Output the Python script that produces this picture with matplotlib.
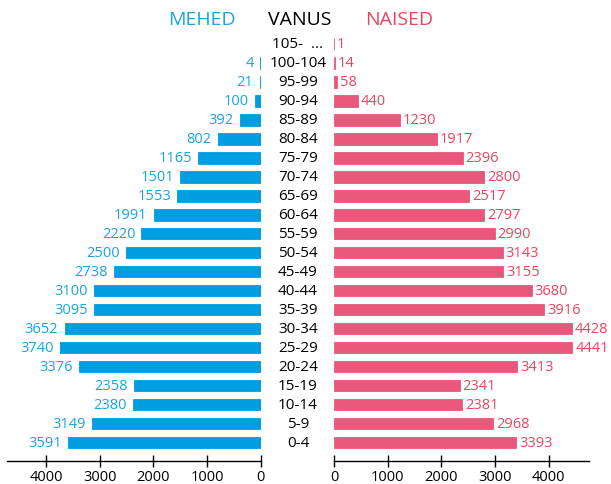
import numpy as np
import matplotlib
matplotlib.use("Agg")
import matplotlib.pyplot as plt
from matplotlib.transforms import blended_transform_factory

plt.rcParams['font.family'] = ['Open Sans', 'DejaVu Sans']

# ------------------------------------------------------------------ #
#  Données (de 105+ vers 0-4)                                          #
# ------------------------------------------------------------------ #
vanus = ["105-  ...", "100-104", "95-99", "90-94", "85-89", "80-84", "75-79",
         "70-74", "65-69", "60-64", "55-59", "50-54", "45-49", "40-44",
         "35-39", "30-34", "25-29", "20-24", "15-19", "10-14", "5-9", "0-4"]
mehed = [0, 4, 21, 100, 392, 802, 1165, 1501, 1553, 1991, 2220, 2500, 2738,
         3100, 3095, 3652, 3740, 3376, 2358, 2380, 3149, 3591]
naised = [1, 14, 58, 440, 1230, 1917, 2396, 2800, 2517, 2797, 2990, 3143,
          3155, 3680, 3916, 4428, 4441, 3413, 2341, 2381, 2968, 3393]
ticks = [0, 1000, 2000, 3000, 4000]

SININE = '#009ee0'
SININE_TXT = '#1ba3e1'
ROOSA = '#e9577b'
ROOSA_TXT = '#e8465f'

W, H = 611, 485
PX_PAR_1000 = 53.7
fig = plt.figure(figsize=(W / 100, H / 100), dpi=100)
bottom = (H - 462) / H
height = (462 - 33.6) / H
ax_l = fig.add_axes([6.7 / W, bottom, 254 / W, height])
ax_r = fig.add_axes([334 / W, bottom, 255 / W, height])

y = np.arange(len(vanus))[::-1]

ax_l.barh(y, mehed, height=0.6, color=SININE, edgecolor=SININE, linewidth=0.6)
ax_r.barh(y, naised, height=0.6, color=ROOSA, edgecolor=ROOSA, linewidth=0.6)

for yi, v in zip(y, mehed):
    if v > 0:
        ax_l.text(v + 115, yi, str(v), ha='right', va='center',
                  color=SININE_TXT, fontsize=10.5)
for yi, v in zip(y, naised):
    ax_r.text(v + 55, yi, str(v), ha='left', va='center',
              color=ROOSA_TXT, fontsize=10.5)

ax_l.set_xlim(254 / PX_PAR_1000 * 1000, 0)
ax_r.set_xlim(0, 255 / PX_PAR_1000 * 1000)
for ax in (ax_l, ax_r):
    ax.set_ylim(-0.97, 21.6)
    ax.set_xticks(ticks)
    ax.set_xticklabels([str(t) for t in ticks], fontsize=10.5)
    ax.tick_params(axis='x', direction='inout', length=8, width=1, pad=2)
    ax.set_yticks([])
    for s in ('top', 'left', 'right'):
        ax.spines[s].set_visible(False)
    ax.spines['bottom'].set_linewidth(1)

# Âges au milieu
tr = blended_transform_factory(fig.transFigure, ax_r.transData)
for yi, lab in zip(y, vanus):
    fig.text(298 / W, yi, lab, transform=tr, ha='center', va='center',
             fontsize=11, color='black')

# En-têtes
fig.text(202 / W, 1 - 20 / H, "MEHED", ha='center', va='center',
         color=SININE_TXT, fontsize=14)
fig.text(300 / W, 1 - 20 / H, "VANUS", ha='center', va='center',
         color='black', fontsize=14)
fig.text(399 / W, 1 - 20 / H, "NAISED", ha='center', va='center',
         color=ROOSA_TXT, fontsize=14)

fig.savefig("out.png", dpi=100)
